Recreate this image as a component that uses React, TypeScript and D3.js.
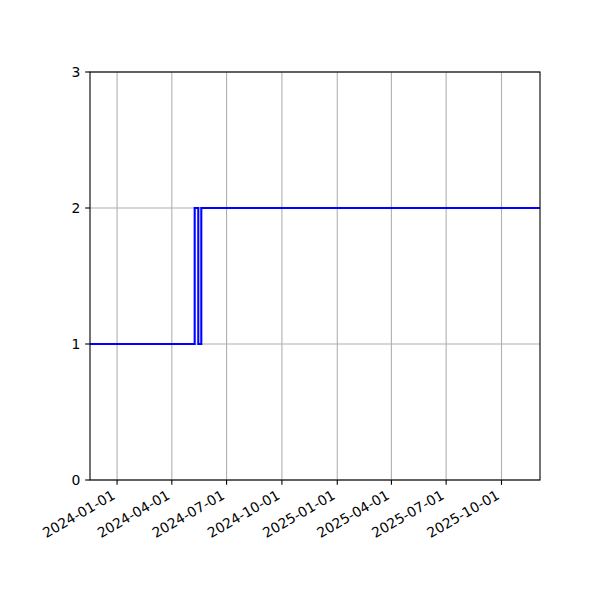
import React from "react";
import * as d3 from "d3";

const stepDates: string[] = ["2023-11-17", "2024-05-09", "2024-05-15", "2024-05-20", "2025-12-04"];
const stepValues: number[] = [1, 2, 1, 2, 2];
const xTickDates: string[] = [
  "2024-01-01", "2024-04-01", "2024-07-01", "2024-10-01",
  "2025-01-01", "2025-04-01", "2025-07-01", "2025-10-01",
];
const yTicks: number[] = [0, 1, 2, 3];
const xDomain: string[] = ["2023-11-17", "2025-12-04"];
const yDomain: number[] = [0, 3];

const W = 600, H = 600;
const L = 90, R = 540, T = 72, B = 480;
const TICK = 4.86;
const FONT = "DejaVu Sans";
const FS = 13.9;

const parse = (s: string) => d3.utcParse("%Y-%m-%d")(s) as Date;

export default function App() {
  const x = d3.scaleUtc().domain(xDomain.map(parse)).range([L, R]);
  const y = d3.scaleLinear().domain(yDomain).range([B, T]);
  const data = stepDates.map((d, i) => ({ d: parse(d), v: stepValues[i] }));
  const line = d3
    .line<{ d: Date; v: number }>()
    .x((p) => x(p.d))
    .y((p) => y(p.v))
    .curve(d3.curveStepAfter);

  return (
    <svg
      width={W}
      height={H}
      style={{ position: "absolute", left: 0, top: 0, background: "#fff" }}
      fontFamily={FONT}
      fontSize={FS}
    >
      <rect x={0} y={0} width={W} height={H} fill="#fff" />
      <g>
        {xTickDates.map((t) => (
          <line key={"gx" + t} x1={x(parse(t))} x2={x(parse(t))} y1={T} y2={B} stroke="#b0b0b0" strokeWidth={1.1} />
        ))}
        {yTicks.map((t) => (
          <line key={"gy" + t} x1={L} x2={R} y1={y(t)} y2={y(t)} stroke="#b0b0b0" strokeWidth={1.1} />
        ))}
      </g>
      <defs>
        <clipPath id="clip">
          <rect x={L} y={T} width={R - L} height={B - T} />
        </clipPath>
      </defs>
      <path d={line(data) || ""} fill="none" stroke="#0000ff" strokeWidth={2.08} clipPath="url(#clip)" />
      <rect x={L} y={T} width={R - L} height={B - T} fill="none" stroke="#000" strokeWidth={1.1} />
      {xTickDates.map((t) => {
        const px = x(parse(t));
        return (
          <g key={"tx" + t}>
            <line x1={px} x2={px} y1={B} y2={B + TICK} stroke="#000" strokeWidth={1.1} />
            <text
              transform={`translate(${px - 1},${B + 18}) rotate(-30)`}
              textAnchor="end"
              fill="#000"
            >
              {t}
            </text>
          </g>
        );
      })}
      {yTicks.map((t) => (
        <g key={"ty" + t}>
          <line x1={L - TICK} x2={L} y1={y(t)} y2={y(t)} stroke="#000" strokeWidth={1.1} />
          <text x={L - TICK - 4.86} y={y(t)} dy="0.36em" textAnchor="end" fill="#000">
            {t}
          </text>
        </g>
      ))}
    </svg>
  );
}
